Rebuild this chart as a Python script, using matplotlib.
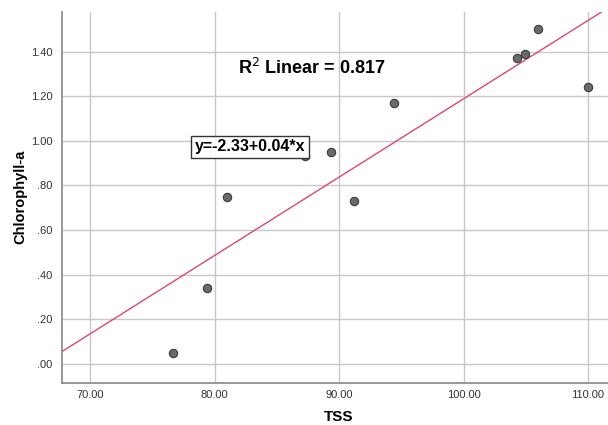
import numpy as np
import matplotlib
matplotlib.use("Agg")
import matplotlib.pyplot as plt

plt.rcParams["font.family"] = ["Liberation Sans", "DejaVu Sans"]

# values
tss = [76.7, 79.4, 81.0, 87.3, 89.35, 91.2, 94.4, 104.3, 104.9, 106.0, 110.0]
chl = [0.05, 0.34, 0.75, 0.93, 0.95, 0.73, 1.17, 1.37, 1.39, 1.50, 1.24]

x_ticks = [70, 80, 90, 100, 110]
y_ticks = [0.0, 0.2, 0.4, 0.6, 0.8, 1.0, 1.2, 1.4]
y_tick_labels = [".00", ".20", ".40", ".60", ".80", "1.00", "1.20", "1.40"]

# linear fit, same as the reference line
slope, intercept = np.polyfit(tss, chl, 1)
pred = intercept + slope * np.array(tss)
r2 = 1 - np.sum((np.array(chl) - pred) ** 2) / np.sum((np.array(chl) - np.mean(chl)) ** 2)

fig = plt.figure(figsize=(6.08, 4.25), dpi=100)
ax = fig.add_axes([0.102, 0.0995, 0.898, 0.8725])

xlim = (67.75, 111.6)
ylim = (-0.085, 1.578)

ax.grid(True, color="#c8c8c8", linewidth=1.0)
ax.set_axisbelow(True)

xs = np.array(xlim)
ax.plot(xs, intercept + slope * xs, color="#d9496e", linewidth=1.0, zorder=2)

ax.scatter(tss, chl, s=36, color="#6a6a6a", edgecolor="#3a3a3a", linewidth=0.8, zorder=3)

ax.set_xlim(xlim)
ax.set_ylim(ylim)
ax.set_xticks(x_ticks)
ax.set_xticklabels([f"{v:.2f}" for v in x_ticks])
ax.set_yticks(y_ticks)
ax.set_yticklabels(y_tick_labels)
ax.tick_params(length=0, labelsize=8, colors="#333333")
ax.tick_params(axis="x", pad=5)
ax.tick_params(axis="y", pad=7)

for side in ["top", "right"]:
    ax.spines[side].set_visible(False)
for side in ["left", "bottom"]:
    ax.spines[side].set_color("#888888")
    ax.spines[side].set_linewidth(1.2)

ax.set_xlabel("TSS", fontsize=11, fontweight="bold")
ax.set_ylabel("Chlorophyll-a", fontsize=10.5, fontweight="bold")
ax.xaxis.set_label_coords(0.507, -0.073)
ax.yaxis.set_label_coords(-0.064, 0.5)

fig.text(0.512, 0.84, f"R$^2$ Linear = {r2:.3f}",
         ha="center", va="center", fontsize=13, fontweight="bold")
fig.text(0.411, 0.655, f"y={intercept:.2f}+{slope:.2f}*x",
         ha="center", va="center", fontsize=11.5, fontweight="bold",
         bbox=dict(boxstyle="square,pad=0.22", facecolor="white", edgecolor="#333333", linewidth=1.0),
         zorder=4)

fig.savefig("out.png", dpi=100)
